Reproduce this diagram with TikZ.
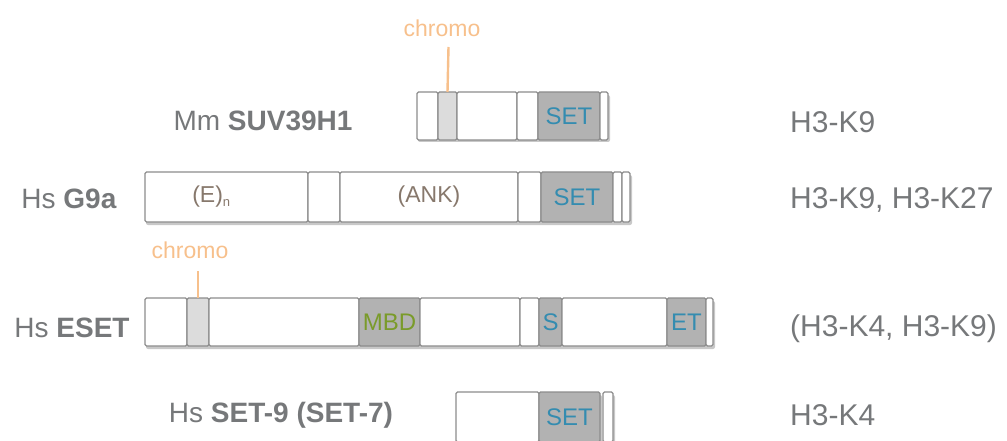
\documentclass[tikz,border=0pt]{standalone}
\usepackage{fontspec}
\setmainfont{Liberation Sans}
\definecolor{txtgray}{RGB}{118,120,122}
\definecolor{edge}{RGB}{140,140,140}
\definecolor{domgray}{RGB}{178,178,178}
\definecolor{chromogray}{RGB}{220,220,220}
\definecolor{setblue}{RGB}{52,140,176}
\definecolor{mbdgreen}{RGB}{122,155,42}
\definecolor{chromoorange}{RGB}{247,192,140}
\definecolor{ank}{RGB}{135,120,108}
\definecolor{shadow}{RGB}{200,200,200}
\begin{document}
\begin{tikzpicture}[x=1pt,y=-1pt,
  seg/.style={draw=edge, line width=1.1pt, rounded corners=1.5pt, fill=white, inner sep=0pt, outer sep=0pt, anchor=north west},
  dom/.style={seg, fill=domgray},
  chr/.style={seg, fill=chromogray},
  settxt/.style={text=setblue, font=\fontsize{24}{24}\selectfont},
  mbdtxt/.style={text=mbdgreen, font=\fontsize{24}{24}\selectfont},
  segtxt/.style={text=ank, font=\fontsize{23}{23}\selectfont},
  protname/.style={text=txtgray, font=\fontsize{28}{28}\selectfont, inner sep=0pt},
  marktxt/.style={text=txtgray, font=\fontsize{30}{30}\selectfont, inner sep=0pt, anchor=west},
  chrlab/.style={text=chromoorange, font=\fontsize{23}{23}\selectfont, inner sep=0pt},
  chrline/.style={draw=chromoorange, line width=2.4pt},
  shad/.style={fill=shadow, rounded corners=2pt}
]
\useasboundingbox (0,0) rectangle (1007,441);

% shadows
\fill[shad] (418,95) rectangle (610,142);
\fill[shad] (146,175) rectangle (632,225);
\fill[shad] (146,301) rectangle (715,349);
\fill[shad] (457,395) rectangle (602,444);
\fill[shad] (604,395) rectangle (615,444);

% Row 1: Mm SUV39H1
\node[seg, minimum width=21pt, minimum height=48pt] (r1a) at (417,92) {};
\node[chr, minimum width=19pt, minimum height=48pt] (r1b) at (438,92) {};
\node[seg, minimum width=60pt, minimum height=48pt] (r1c) at (457,92) {};
\node[seg, minimum width=21pt, minimum height=48pt] (r1d) at (517,92) {};
\node[dom, minimum width=62pt, minimum height=48pt] (r1e) at (538,92) {};
\node[seg, minimum width=8pt, minimum height=48pt] (r1f) at (600,92) {};
\node[settxt] (r1set) at (r1e.center) {SET};
\node[protname] (n1) at (263,121) {Mm \textbf{SUV39H1}};
\node[marktxt] (m1) at (790,122) {H3-K9};
\node[chrlab] (c1) at (442,28) {chromo};
\coordinate (c1top) at (448.5,47);
\draw[chrline] (c1top) -- (r1b.north);

% Row 2: Hs G9a
\node[seg, minimum width=163pt, minimum height=50pt] (r2a) at (145,172) {};
\node[seg, minimum width=32pt, minimum height=50pt] (r2b) at (308,172) {};
\node[seg, minimum width=178pt, minimum height=50pt] (r2c) at (340,172) {};
\node[seg, minimum width=23pt, minimum height=50pt] (r2d) at (518,172) {};
\node[dom, minimum width=72pt, minimum height=50pt] (r2e) at (541,172) {};
\node[seg, minimum width=9pt, minimum height=50pt] (r2f) at (613,172) {};
\node[seg, minimum width=8pt, minimum height=50pt] (r2g) at (622,172) {};
\node[segtxt] (r2at) at ([xshift=-15pt]r2a.center) {(E)\textsubscript{\fontsize{13}{13}\selectfont n}};
\node[segtxt] (r2ct) at (r2c.center) {(ANK)};
\node[settxt] (r2set) at (r2e.center) {SET};
\node[protname] (n2) at (69,199) {Hs \textbf{G9a}};
\node[marktxt] (m2) at (790,200) {H3-K9, H3-K27};

% Row 3: Hs ESET
\node[seg, minimum width=42pt, minimum height=48pt] (r3a) at (145,298) {};
\node[chr, minimum width=22pt, minimum height=48pt] (r3b) at (187,298) {};
\node[seg, minimum width=150pt, minimum height=48pt] (r3c) at (209,298) {};
\node[dom, minimum width=61pt, minimum height=48pt] (r3d) at (359,298) {};
\node[seg, minimum width=100pt, minimum height=48pt] (r3e) at (420,298) {};
\node[seg, minimum width=19pt, minimum height=48pt] (r3f) at (520,298) {};
\node[dom, minimum width=23pt, minimum height=48pt] (r3g) at (539,298) {};
\node[seg, minimum width=105pt, minimum height=48pt] (r3h) at (562,298) {};
\node[dom, minimum width=39pt, minimum height=48pt] (r3i) at (667,298) {};
\node[seg, minimum width=7pt, minimum height=48pt] (r3j) at (706,298) {};
\node[mbdtxt] (r3mbd) at (r3d.center) {MBD};
\node[settxt] (r3s) at (r3g.center) {S};
\node[settxt] (r3et) at (r3i.center) {ET};
\node[protname] (n3) at (72,328) {Hs \textbf{ESET}};
\node[marktxt] (m3) at (790,329) {(H3-K4, H3-K9)};
\node[chrlab] (c3) at (190,250) {chromo};
\coordinate (c3top) at (198,271);
\draw[chrline] (c3top) -- (r3b.north);

% Row 4: Hs SET-9
\node[seg, minimum width=83pt, minimum height=50pt] (r4a) at (456,392) {};
\node[dom, minimum width=61pt, minimum height=50pt] (r4b) at (539,392) {};
\node[seg, minimum width=10pt, minimum height=50pt] (r4c) at (603,392) {};
\node[settxt] (r4set) at (r4b.center) {SET};
\node[protname] (n4) at (281,415) {Hs \textbf{SET-9 (SET-7)}};
\node[marktxt] (m4) at (790,415) {H3-K4};
\end{tikzpicture}
\end{document}
